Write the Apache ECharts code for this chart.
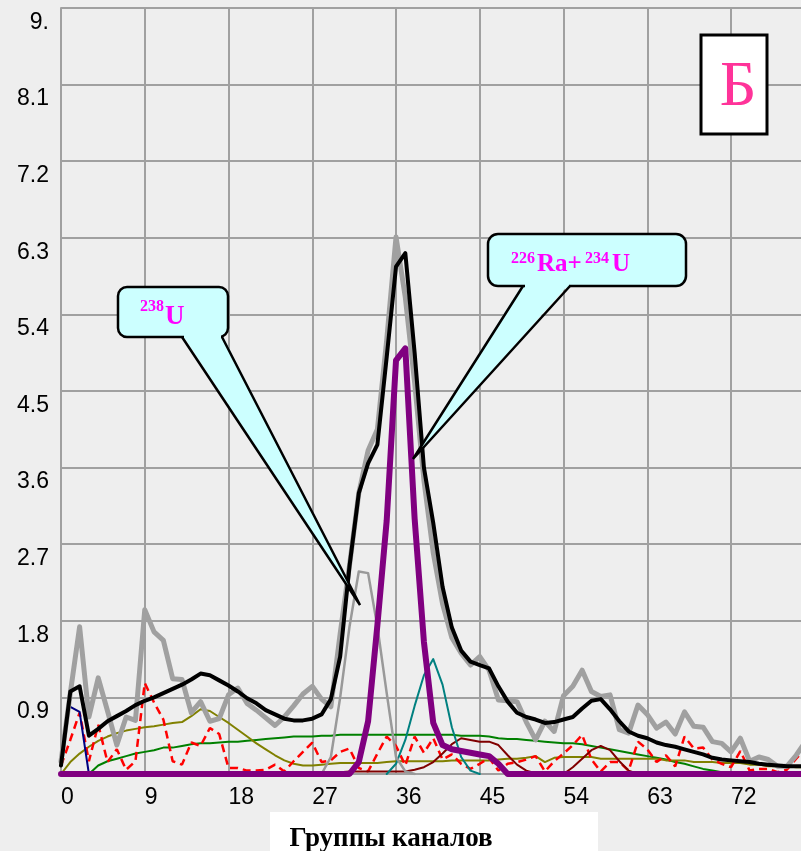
<!DOCTYPE html>
<html>
<head>
<meta charset="utf-8">
<script src="https://cdn.jsdelivr.net/npm/echarts@6/dist/echarts.min.js"></script>
<style>
html,body{margin:0;padding:0;background:#EEEEEE;overflow:hidden;width:801px;height:851px;}
#chart{width:830px;height:851px;}
</style>
</head>
<body>
<div id="chart"></div>
<script>
// ---- data ----
const channels = [0,1,2,3,4,5,6,7,8,9,10,11,12,13,14,15,16,17,18,19,20,21,22,23,24,25,26,27,28,29,30,31,32,33,34,35,36,37,38,39,40,41,42,43,44,45,46,47,48,49,50,51,52,53,54,55,56,57,58,59,60,61,62,63,64,65,66,67,68,69,70,71,72,73,74,75,76,77,78,79,80];
const xTickLabels = [0, 9, 18, 27, 36, 45, 54, 63, 72];
const yTickValues = [0.9, 1.8, 2.7, 3.6, 4.5, 5.4, 6.3, 7.2, 8.1, 9.0];
const yTickLabels = ['0.9', '1.8', '2.7', '3.6', '4.5', '5.4', '6.3', '7.2', '8.1', '9.'];

// measured spectrum (thick grey)
const measured = [0.15,0.95,1.73,0.67,1.13,0.74,0.34,0.67,0.63,1.93,1.67,1.57,1.12,1.11,0.72,0.85,0.62,0.65,0.93,1.01,0.83,0.75,0.66,0.57,0.67,0.80,0.94,1.03,0.88,0.79,1.65,2.45,3.30,3.80,4.05,5.10,6.31,5.60,4.60,3.45,2.60,2.00,1.60,1.42,1.28,1.38,1.22,0.87,0.86,0.85,0.61,0.40,0.62,0.50,0.92,1.03,1.22,0.97,0.91,0.93,0.52,0.48,0.81,0.70,0.54,0.61,0.47,0.73,0.56,0.55,0.38,0.36,0.26,0.42,0.15,0.20,0.17,0.09,0.09,0.22,0.38];
// fitted sum (black)
const fitted = [0.10,0.97,1.03,0.45,0.53,0.62,0.68,0.74,0.81,0.86,0.90,0.95,1.00,1.05,1.11,1.18,1.16,1.10,1.04,0.97,0.89,0.83,0.75,0.70,0.65,0.63,0.63,0.65,0.70,0.88,1.38,2.44,3.30,3.65,3.87,4.90,5.96,6.12,4.95,3.60,2.95,2.20,1.72,1.45,1.32,1.28,1.24,1.03,0.85,0.72,0.67,0.64,0.60,0.61,0.64,0.67,0.77,0.86,0.88,0.76,0.62,0.50,0.45,0.42,0.37,0.34,0.32,0.29,0.26,0.23,0.19,0.17,0.16,0.15,0.14,0.12,0.11,0.10,0.09,0.09,0.09];
// 226Ra+234U peak (purple)
const peakRaU = [0,0,0,0,0,0,0,0,0,0,0,0,0,0,0,0,0,0,0,0,0,0,0,0,0,0,0,0,0,0,0,0,0.14,0.62,1.75,2.98,4.86,5.00,3.00,1.55,0.60,0.34,0.29,0.27,0.25,0.23,0.21,0.12,0,0,0,0,0,0,0,0,0,0,0,0,0,0,0,0,0,0,0,0,0,0,0,0,0,0,0,0,0,0,0,0,0];
// 238U peak (thin grey)
const peakU238 = [null,null,null,null,null,null,null,null,null,null,null,null,null,null,null,null,null,null,null,null,null,null,null,null,null,null,null,0,0,0.20,0.90,1.73,2.38,2.36,1.73,0.95,0.20,0.03,0,null,null,null,null,null,null,null,null,null,null,null,null,null,null,null,null,null,null,null,null,null,null,null,null,null,null,null,null,null,null,null,null,null,null,null,null,null,null,null,null,null,null];
// teal peak
const peakTeal = [null,null,null,null,null,null,null,null,null,null,null,null,null,null,null,null,null,null,null,null,null,null,null,null,null,null,null,null,null,null,null,null,null,null,null,0,0.12,0.40,0.80,1.16,1.35,1.05,0.55,0.20,0.04,0,null,null,null,null,null,null,null,null,null,null,null,null,null,null,null,null,null,null,null,null,null,null,null,null,null,null,null,null,null,null,null,null,null,null,null];
// dark red peaks
const peakMaroon = [0,0,0,0,0,0,0,0,0,0,0,0,0,0,0,0,0,0,0,0,0,0,0,0,0,0,0,0,0,0.01,0.02,0.03,0.03,0.03,0.03,0.03,0.03,0.03,0.05,0.08,0.14,0.24,0.35,0.42,0.40,0.38,0.38,0.34,0.22,0.11,0.04,0.01,0,0,0,0.08,0.18,0.28,0.33,0.28,0.15,0.04,0,0,0,0,0,0,0,0,0,0,0,0,0,0,0,0,0,0,0];
// green background
const bgGreen = [0,0,0,0,0.10,0.15,0.18,0.21,0.24,0.26,0.28,0.31,0.31,0.33,0.35,0.36,0.36,0.37,0.38,0.38,0.39,0.40,0.41,0.42,0.43,0.44,0.44,0.44,0.45,0.45,0.46,0.46,0.46,0.46,0.46,0.46,0.46,0.46,0.46,0.46,0.46,0.46,0.46,0.45,0.45,0.45,0.44,0.42,0.41,0.41,0.40,0.39,0.38,0.37,0.36,0.36,0.35,0.33,0.31,0.29,0.27,0.25,0.23,0.21,0.19,0.17,0.14,0.12,0.09,0.06,0.04,0.02,0,0,0,0,0,0,0,0,0];
// olive background
const bgOlive = [0,0.14,0.24,0.32,0.39,0.44,0.48,0.51,0.53,0.55,0.56,0.58,0.60,0.61,0.68,0.76,0.74,0.67,0.60,0.52,0.44,0.36,0.29,0.22,0.16,0.12,0.10,0.10,0.11,0.12,0.13,0.13,0.13,0.13,0.13,0.14,0.15,0.15,0.15,0.15,0.15,0.15,0.16,0.16,0.16,0.16,0.16,0.17,0.18,0.18,0.19,0.21,0.14,0.19,0.20,0.20,0.20,0.20,0.18,0.18,0.18,0.18,0.18,0.18,0.18,0.16,0.16,0.16,0.14,0.14,0.14,0.13,0.13,0.13,0.11,0.11,0.09,0.09,0.09,0.08,0.08];
// red dashed
const residual = [0.10,0.40,0.72,0.15,0.58,0.14,0.29,0.05,0.15,1.07,0.84,0.64,0.15,0.11,0.37,0.33,0.54,0.47,0.07,0.07,0.04,0.04,0.05,0.11,0.03,0.15,0.26,0.37,0.14,0.16,0.26,0.30,0.07,0.03,0.24,0.44,0.33,0.10,0.44,0.25,0.42,0.17,0.23,0.12,0.06,0.12,0.19,0.04,0.12,0.14,0.17,0.21,0.03,0.15,0.24,0.34,0.46,0.17,0.03,0.14,0.14,0.04,0.38,0.29,0.14,0.22,0.09,0.44,0.30,0.31,0.17,0.12,0.08,0.27,0.04,0.06,0.06,0.02,0.05,0.18,0.30];
// navy short segment
const peakNavy = [null,0.79,0.73,0,null,null,null,null,null,null,null,null,null,null,null,null,null,null,null,null,null,null,null,null,null,null,null,null,null,null,null,null,null,null,null,null,null,null,null,null,null,null,null,null,null,null,null,null,null,null,null,null,null,null,null,null,null,null,null,null,null,null,null,null,null,null,null,null,null,null,null,null,null,null,null,null,null,null,null,null,null];

// ---- build ----
function pairs(arr){
  const out = [];
  channels.forEach((c,i)=>{ if(arr[i]!==null && arr[i]!==undefined) out.push([c, arr[i]]); });
  return out;
}
function line(name, arr, color, width, extra){
  return Object.assign({
    name, type:'line', data: pairs(arr), symbol:'none', animation:false, silent:true,
    lineStyle:{color, width, join:'round', cap:'round'}, clip:true
  }, extra||{});
}

const GRID_LEFT = 61, GRID_TOP = 8, PX_PER_CH = 9.306, X_MAX = 81, GRID_H = 766;
const gridColor = '#A0A0A0';
const labelFont = 'Liberation Sans, Arial, sans-serif';
const serif = 'Liberation Serif, Times New Roman, serif';

const chart = echarts.init(document.getElementById('chart'), null, {renderer:'canvas'});
const option = {
  backgroundColor:'#EEEEEE',
  animation:false,
  grid:{left:GRID_LEFT, top:GRID_TOP, width:PX_PER_CH*X_MAX, height:GRID_H, containLabel:false},
  xAxis:{
    type:'value', min:0, max:X_MAX, interval:9,
    axisLine:{show:true, onZero:false, lineStyle:{color:gridColor, width:2}},
    axisTick:{show:false},
    splitLine:{show:true, lineStyle:{color:gridColor, width:2}},
    axisLabel:{
      align:'left', margin:12, fontSize:23, fontFamily:labelFont, color:'#000',
      formatter:v => xTickLabels.indexOf(v) >= 0 ? String(v) : ''
    }
  },
  yAxis:{
    type:'value', min:0, max:9, interval:0.9,
    axisLine:{show:true, lineStyle:{color:gridColor, width:2}},
    axisTick:{show:false},
    splitLine:{show:true, lineStyle:{color:gridColor, width:2}},
    axisLabel:{
      margin:12, fontSize:23, fontFamily:labelFont, color:'#000', verticalAlign:'top', padding:[3,0,0,0],
      formatter:v => { const r = Math.round(v*10)/10; const k = yTickValues.findIndex(t => Math.abs(t-r)<1e-6); return k>=0 ? yTickLabels[k] : ''; }
    }
  },
  series:[
    line('green', bgGreen, '#008000', 2),
    line('olive', bgOlive, '#808000', 2),
    line('residual', residual, '#FF0000', 2.5, {lineStyle:{color:'#FF0000', width:2.5, type:[8,5]}}),
    line('maroon', peakMaroon, '#800000', 2),
    line('teal', peakTeal, '#008080', 2),
    line('navy', peakNavy, '#000080', 2),
    line('U238', peakU238, '#999999', 2.5),
    line('measured', measured, '#A0A0A0', 5),
    line('fitted', fitted, '#000000', 4),
    line('RaU', peakRaU, '#800080', 6)
  ],
  graphic:[
    // callout 1 (238U)
    {type:'polygon', z:100, shape:{points:[[182,334],[222,334],[360,605]]}, style:{fill:'#CCFFFF'}},
    {type:'rect', z:101, shape:{x:118, y:287, width:110, height:50, r:9}, style:{fill:'#CCFFFF', stroke:'#000', lineWidth:2.5}},
    {type:'rect', z:102, shape:{x:184, y:334, width:37, height:5}, style:{fill:'#CCFFFF'}},
    {type:'polyline', z:103, shape:{points:[[182,337],[360,605],[222,337]]}, style:{stroke:'#000', lineWidth:2.5, fill:null}},
    {type:'text', z:104, style:{x:140, y:299, text:'238', font:'bold 16px '+serif, fill:'#FF00FF', textVerticalAlign:'top'}},
    {type:'text', z:104, style:{x:165, y:317, text:'U', font:'bold 27px '+serif, fill:'#FF00FF', textVerticalAlign:'middle'}},
    // callout 2 (226Ra+234U)
    {type:'polygon', z:100, shape:{points:[[523,283],[570,283],[413,459]]}, style:{fill:'#CCFFFF'}},
    {type:'rect', z:101, shape:{x:488, y:234, width:198, height:52, r:10}, style:{fill:'#CCFFFF', stroke:'#000', lineWidth:2.5}},
    {type:'rect', z:102, shape:{x:525, y:283, width:44, height:5}, style:{fill:'#CCFFFF'}},
    {type:'polyline', z:103, shape:{points:[[523,286],[413,459],[570,286]]}, style:{stroke:'#000', lineWidth:2.5, fill:null}},
    {type:'text', z:104, style:{x:511, y:251, text:'226', font:'bold 16px '+serif, fill:'#FF00FF', textVerticalAlign:'top'}},
    {type:'text', z:104, style:{x:537, y:265, text:'Ra+', font:'bold 25px '+serif, fill:'#FF00FF', textVerticalAlign:'middle'}},
    {type:'text', z:104, style:{x:585, y:251, text:'234', font:'bold 16px '+serif, fill:'#FF00FF', textVerticalAlign:'top'}},
    {type:'text', z:104, style:{x:612, y:265, text:'U', font:'bold 25px '+serif, fill:'#FF00FF', textVerticalAlign:'middle'}},
    // panel letter
    {type:'rect', z:100, shape:{x:701, y:35, width:66, height:99}, style:{fill:'#FFFFFF', stroke:'#000', lineWidth:3}},
    {type:'text', z:101, style:{x:738, y:88, text:'Б', font:'64px '+serif, fill:'#FF3399', textAlign:'center', textVerticalAlign:'middle'}},
    // axis title
    {type:'rect', z:100, shape:{x:270, y:812, width:328, height:45}, style:{fill:'#FFFFFF'}},
    {type:'text', z:101, style:{x:391, y:839, text:'Группы каналов', font:'bold 27px '+serif, fill:'#000', textAlign:'center', textVerticalAlign:'middle'}}
  ]
};
chart.setOption(option);
</script>
</body>
</html>
